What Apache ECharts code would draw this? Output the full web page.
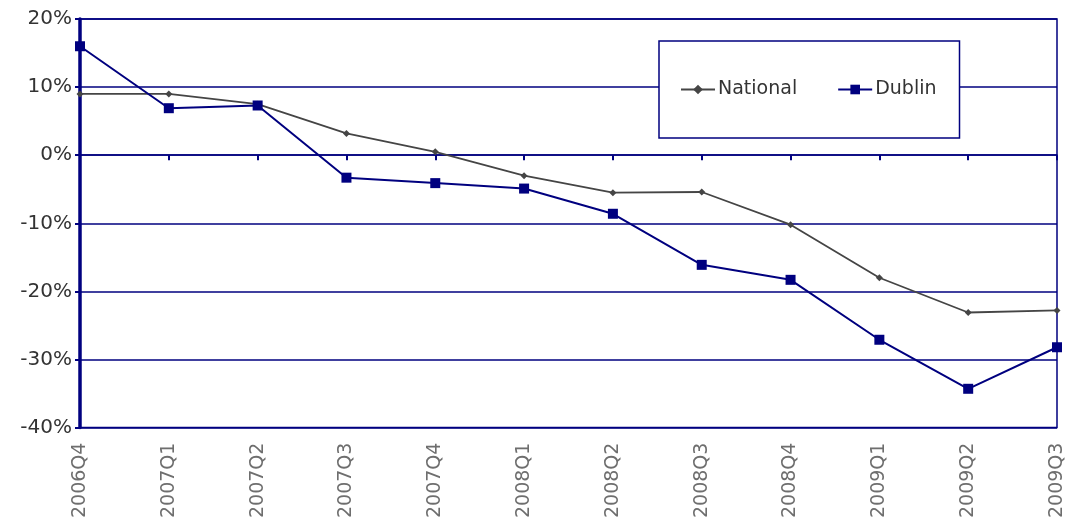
<!DOCTYPE html>
<html>
<head>
<meta charset="utf-8">
<script src="https://cdn.jsdelivr.net/npm/echarts@6/dist/echarts.min.js"></script>
<style>
  html, body { margin: 0; padding: 0; background: #fff; }
  #chart { width: 1077px; height: 521px; }
</style>
</head>
<body>
<div id="chart"></div>
<script>
// Quarterly change in house prices (%), National vs Dublin
const quarters = ['2006Q4', '2007Q1', '2007Q2', '2007Q3', '2007Q4', '2008Q1',
                  '2008Q2', '2008Q3', '2008Q4', '2009Q1', '2009Q2', '2009Q3'];
const national = [9.0, 9.0, 7.5, 3.2, 0.5, -3.0, -5.5, -5.4, -10.2, -18.0, -23.1, -22.8];
const dublin   = [16.0, 6.9, 7.3, -3.3, -4.1, -4.9, -8.6, -16.1, -18.3, -27.1, -34.3, -28.2];

const NAVY = '#00007f';
const GREY = '#454545';
const FONT = 'DejaVu Sans';

const chart = echarts.init(document.getElementById('chart'));
chart.setOption({
  animation: false,
  backgroundColor: '#ffffff',
  textStyle: { fontFamily: FONT },
  grid: {
    left: 80, right: 20, top: 19, bottom: 93,
    show: true, borderColor: NAVY, borderWidth: 1.5, backgroundColor: 'transparent'
  },
  legend: {
    left: 659, top: 41,
    padding: [39, 23, 39, 21],
    itemGap: 40,
    itemWidth: 34, itemHeight: 12,
    backgroundColor: '#ffffff',
    borderColor: NAVY, borderWidth: 1.5,
    textStyle: { fontFamily: FONT, fontSize: 19, color: '#333333', padding: [0, 0, 0, -2] },
    data: ['National', 'Dublin']
  },
  xAxis: [
    {
      // labelled category axis along the bottom edge
      type: 'category', data: quarters, boundaryGap: false, position: 'bottom',
      axisLine: { show: false, onZero: false },
      axisTick: { show: false },
      splitLine: { show: false },
      axisLabel: { rotate: 90, margin: 15, fontFamily: FONT, fontSize: 19, color: '#6e6e6e' }
    },
    {
      // tick marks sitting on the 0% line
      type: 'category', data: quarters, boundaryGap: false, position: 'bottom',
      axisLine: { show: true, onZero: true, lineStyle: { color: NAVY, width: 1.5 } },
      axisTick: { show: true, length: 5, lineStyle: { color: NAVY, width: 2 } },
      axisLabel: { show: false },
      splitLine: { show: false }
    }
  ],
  yAxis: {
    type: 'value', min: -40, max: 20, interval: 10,
    axisLine: { show: true, lineStyle: { color: NAVY, width: 3.5 } },
    axisTick: { show: true, length: 5, lineStyle: { color: NAVY, width: 2 } },
    splitLine: { show: true, lineStyle: { color: NAVY, width: 1.5 } },
    axisLabel: { formatter: '{value}%', margin: 8, fontFamily: FONT, fontSize: 20, color: '#333333' }
  },
  series: [
    {
      name: 'National', type: 'line', data: national, xAxisIndex: 0,
      symbol: 'diamond', symbolSize: 7, showAllSymbol: true,
      lineStyle: { color: GREY, width: 1.8 },
      itemStyle: { color: GREY },
      z: 3
    },
    {
      name: 'Dublin', type: 'line', data: dublin, xAxisIndex: 0,
      symbol: 'rect', symbolSize: 10, showAllSymbol: true,
      lineStyle: { color: NAVY, width: 2 },
      itemStyle: { color: NAVY },
      z: 4
    }
  ]
});
</script>
</body>
</html>
